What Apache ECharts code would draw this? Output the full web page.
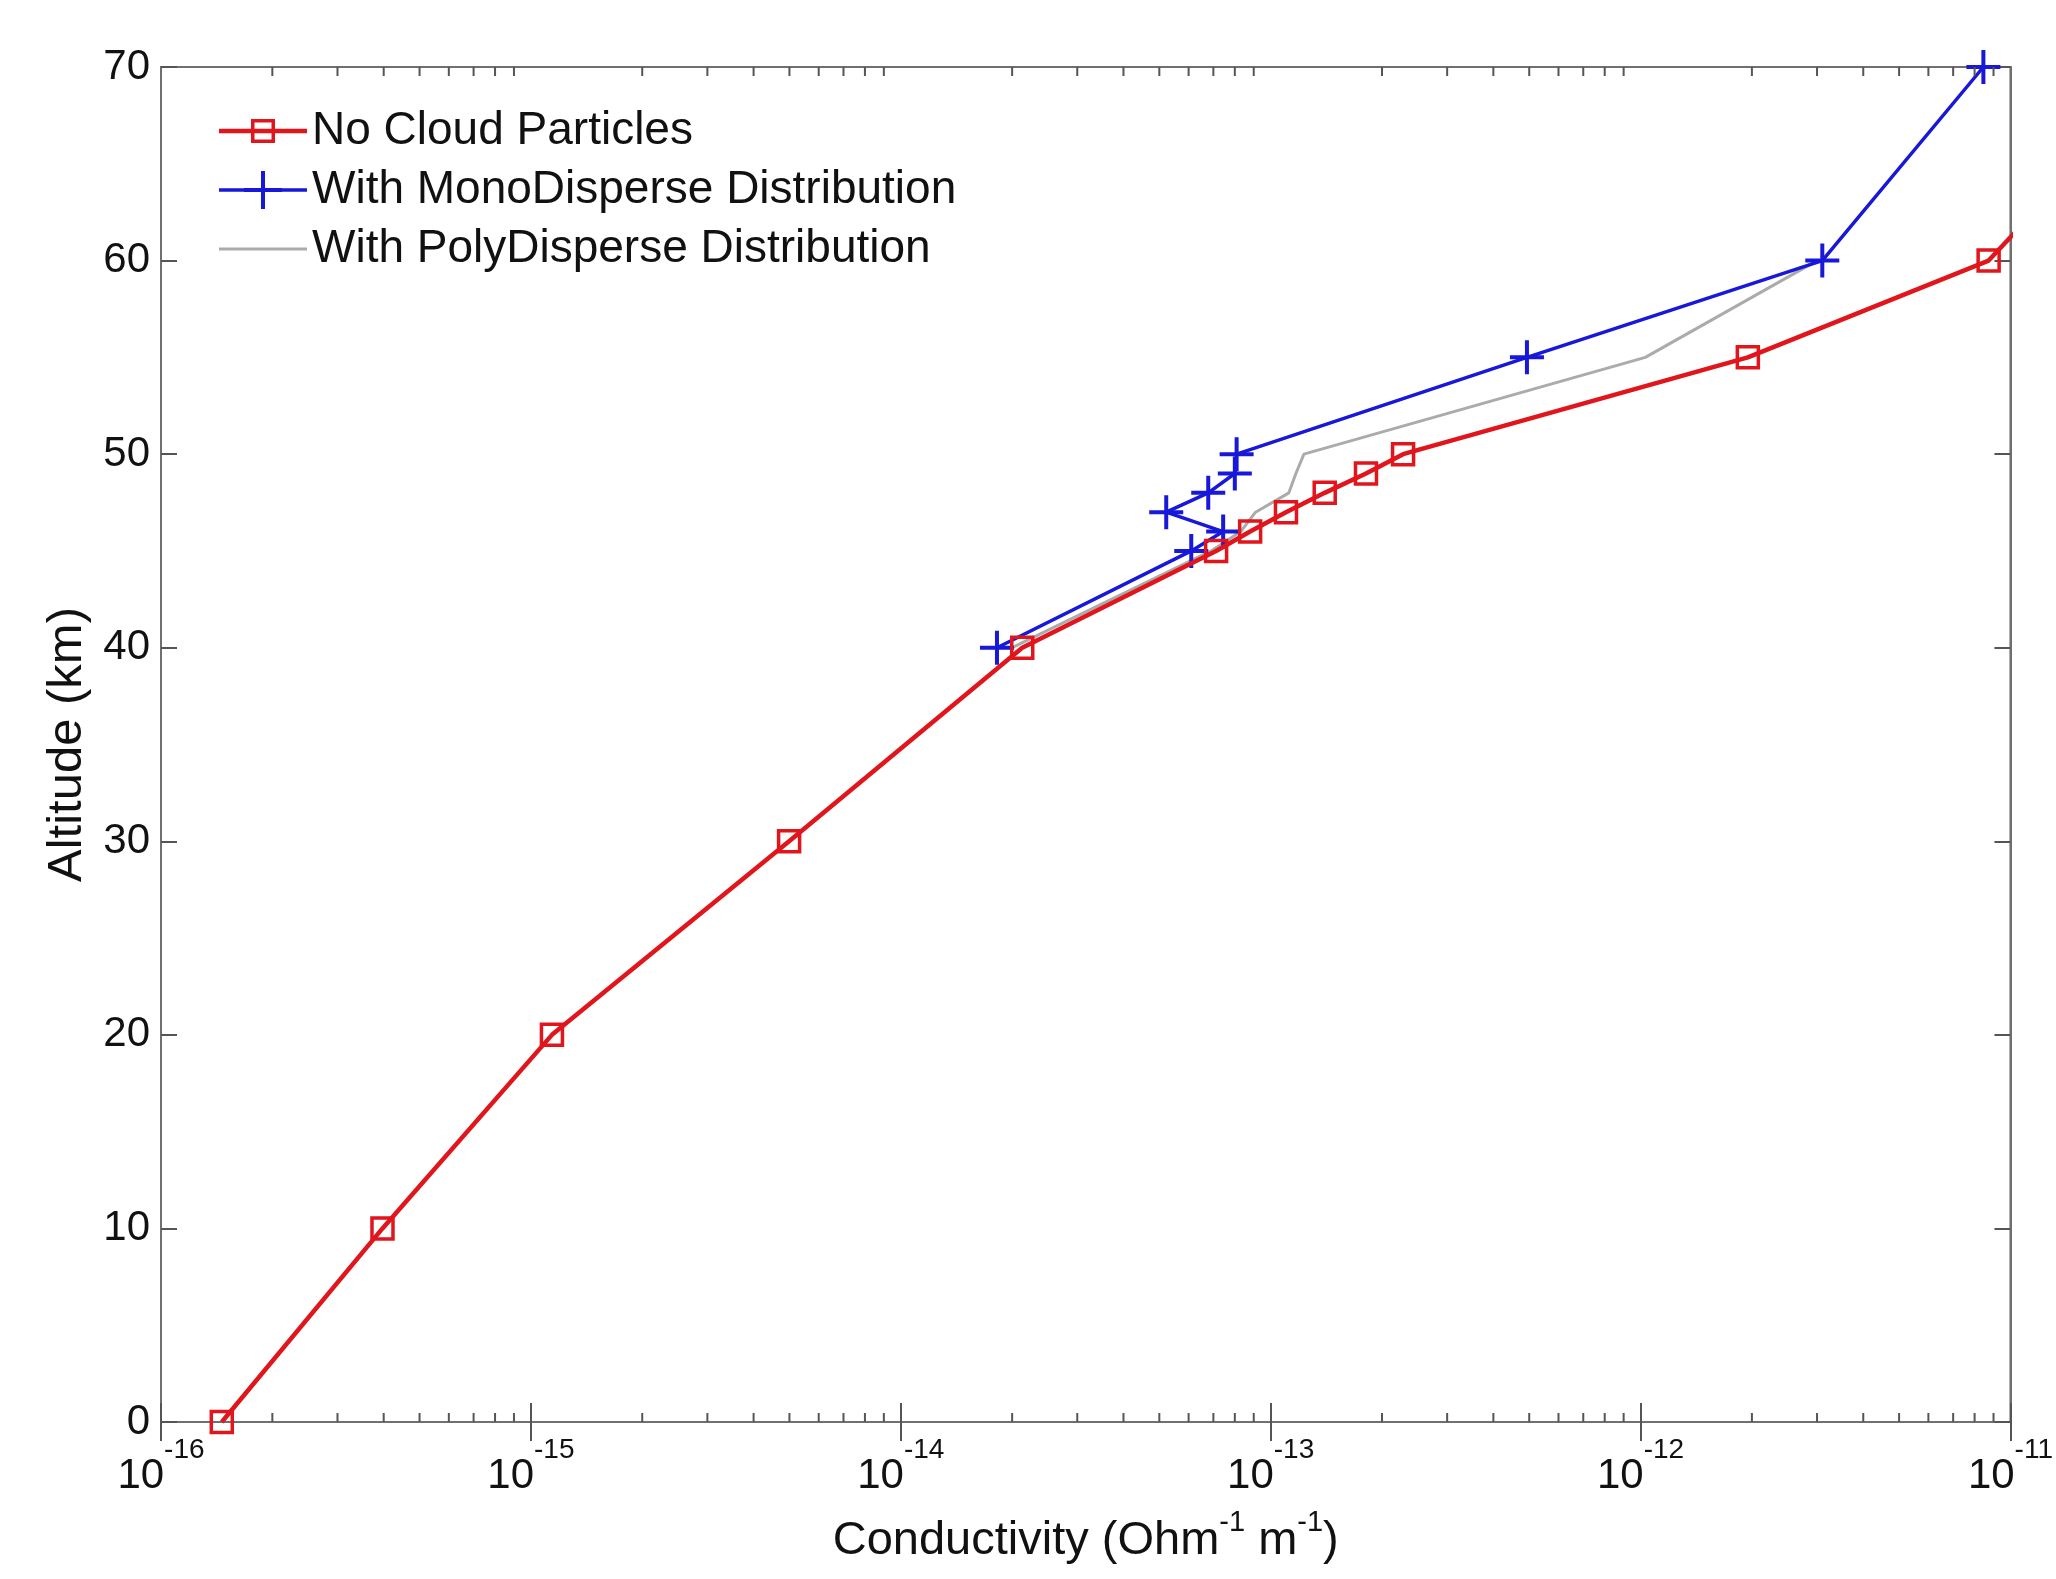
<!DOCTYPE html>
<html>
<head>
<meta charset="utf-8">
<script src="https://cdn.jsdelivr.net/npm/echarts@6/dist/echarts.min.js"></script>
<style>html,body{margin:0;padding:0;background:#fff}#c{width:2056px;height:1579px}</style>
</head>
<body>
<div id="c"></div>
<script>
// ---- data ----
const seriesNames = ['No Cloud Particles', 'With MonoDisperse Distribution', 'With PolyDisperse Distribution'];
const altNoCloud = [0, 10, 20, 30, 40, 45, 46, 47, 48, 49, 50, 55, 60, 70];
const condNoCloud = [1.46e-16, 3.97e-16, 1.14e-15, 4.99e-15, 2.13e-14, 7.12e-14, 8.8e-14, 1.10e-13, 1.40e-13, 1.81e-13, 2.28e-13, 1.95e-12, 8.73e-12, 2.7e-11];
const altMono = [40, 45, 46, 47, 48, 49, 50, 55, 60, 70];
const condMono = [1.82e-14, 6.1e-14, 7.44e-14, 5.22e-14, 6.78e-14, 8.0e-14, 8.09e-14, 4.93e-13, 3.1e-12, 8.45e-12];
const altPoly = [40, 45, 46, 47, 48, 49, 50, 55, 60];
const condPoly = [2.0e-14, 6.9e-14, 8.3e-14, 9.1e-14, 1.12e-13, 1.17e-13, 1.23e-13, 1.03e-12, 3.0e-12];
const xMin = 1e-16, xMax = 1e-11;
const yTicks = [0, 10, 20, 30, 40, 50, 60, 70];

// minor log tick positions (2..9 within each decade)
const minorTicks = [];
for (let d = -16; d < -11; d++) for (let m = 2; m <= 9; m++) minorTicks.push([m * Math.pow(10, d)]);

const FONT = 'Liberation Sans, Arial, Helvetica, sans-serif';
const TXT = '#111';
const AX = '#707070';
const RED = '#e0161c';
const BLUE = '#1818d8';
const GRAY = '#ababab';
const PLUS = 'path://M-2,-17 L2,-17 L2,-2 L17,-2 L17,2 L2,2 L2,17 L-2,17 L-2,2 L-17,2 L-17,-2 L-2,-2 Z';

// legend icons (line sample + marker)
const ICON_RED = 'path://M0,9.75 L88,9.75 L88,14.25 L0,14.25 Z M32,0 L56,0 L56,24 L32,24 Z M35.5,3.5 L35.5,20.5 L52.5,20.5 L52.5,3.5 Z';
const ICON_BLUE = 'path://M0,17.25 L88,17.25 L88,20.75 L0,20.75 Z M42,0 L46,0 L46,38 L42,38 Z M25,17 L63,17 L63,21 L25,21 Z';
const ICON_GRAY = 'path://M0,0 L88,0 L88,3 L0,3 Z';

const zip = (xs, ys) => xs.map((x, i) => [x, ys[i]]);

const chart = echarts.init(document.getElementById('c'), null, {renderer: 'canvas'});
const option = {
  animation: false,
  backgroundColor: '#fff',
  grid: {left: 161, right: 39, top: 67, bottom: 157, show: true, borderColor: AX, borderWidth: 2, backgroundColor: 'transparent'},
  legend: {
    data: [
      {name: seriesNames[0], icon: ICON_RED, itemStyle: {color: RED, borderWidth: 0}},
      {name: seriesNames[1], icon: ICON_BLUE, itemStyle: {color: BLUE, borderWidth: 0}},
      {name: seriesNames[2], icon: ICON_GRAY, itemStyle: {color: GRAY, borderWidth: 0}}
    ],
    orient: 'vertical', left: 214, top: 103,
    itemWidth: 88, itemHeight: 38, itemGap: 13,
    symbolKeepAspect: true,
    textStyle: {fontFamily: FONT, fontSize: 46, lineHeight: 46, color: TXT, padding: [0, 0, 0, 0]},
    backgroundColor: 'transparent', borderWidth: 0
  },
  xAxis: [{
    type: 'log', logBase: 10, min: xMin, max: xMax,
    position: 'bottom',
    axisLine: {show: true, lineStyle: {color: AX, width: 2}},
    axisTick: {show: true, inside: true, length: 19, lineStyle: {color: '#555', width: 2}},
    splitLine: {show: false},
    axisLabel: {
      margin: 14,
      formatter: v => '{b|10}{s|-' + Math.round(-Math.log10(v)) + '}',
      rich: {
        b: {fontFamily: FONT, fontSize: 42, color: TXT, lineHeight: 80},
        s: {fontFamily: FONT, fontSize: 28, color: TXT, lineHeight: 28, verticalAlign: 'top'}
      }
    },
    name: '{b|Conductivity (Ohm}{s|-1}{b| m}{s|-1}{b|)}',
    nameLocation: 'middle', nameGap: 86,
    nameTextStyle: {
      rich: {
        b: {fontFamily: FONT, fontSize: 47, color: TXT, lineHeight: 66},
        s: {fontFamily: FONT, fontSize: 29, color: TXT, lineHeight: 29, verticalAlign: 'top'}
      }
    }
  }, {
    type: 'log', logBase: 10, min: xMin, max: xMax,
    position: 'top',
    axisLine: {show: true, lineStyle: {color: AX, width: 2}},
    axisTick: {show: true, inside: true, length: 19, lineStyle: {color: '#555', width: 2}},
    axisLabel: {show: false}, splitLine: {show: false}
  }],
  yAxis: [{
    type: 'value', min: 0, max: 70, interval: 10,
    position: 'left',
    axisLine: {show: true, lineStyle: {color: AX, width: 2}},
    axisTick: {show: true, inside: true, length: 16, lineStyle: {color: '#555', width: 2}},
    splitLine: {show: false},
    axisLabel: {margin: 11, fontFamily: FONT, fontSize: 42, color: TXT, formatter: v => yTicks.includes(v) ? String(v) : ''},
    name: 'Altitude (km)', nameLocation: 'middle', nameGap: 68, nameRotate: 90,
    nameTextStyle: {fontFamily: FONT, fontSize: 49, color: TXT}
  }, {
    type: 'value', min: 0, max: 70, interval: 10,
    position: 'right',
    axisLine: {show: true, lineStyle: {color: AX, width: 2}},
    axisTick: {show: true, inside: true, length: 16, lineStyle: {color: '#555', width: 2}},
    axisLabel: {show: false}, splitLine: {show: false}
  }],
  series: [
    {
      name: seriesNames[2], type: 'line', data: zip(condPoly, altPoly), z: 2,
      symbol: 'none', lineStyle: {color: GRAY, width: 3}, itemStyle: {color: GRAY}
    },
    {
      name: seriesNames[1], type: 'line', data: zip(condMono, altMono), z: 3,
      symbol: PLUS, symbolSize: 34,
      lineStyle: {color: BLUE, width: 3.5}, itemStyle: {color: BLUE}
    },
    {
      name: seriesNames[0], type: 'line', data: zip(condNoCloud, altNoCloud), z: 4,
      symbol: 'rect', symbolSize: 21,
      lineStyle: {color: RED, width: 4.5},
      itemStyle: {color: 'rgba(255,255,255,0)', borderColor: RED, borderWidth: 3.5}
    },
    {
      type: 'custom', silent: true, z: 5, clip: false,
      data: minorTicks,
      encode: {x: 0},
      renderItem: (params, api) => {
        const v = api.value(0);
        const pb = api.coord([v, 0]);
        const pt = api.coord([v, 70]);
        const st = {stroke: '#555', lineWidth: 2};
        return {type: 'group', children: [
          {type: 'line', shape: {x1: pb[0], y1: pb[1], x2: pb[0], y2: pb[1] - 9}, style: st},
          {type: 'line', shape: {x1: pt[0], y1: pt[1], x2: pt[0], y2: pt[1] + 9}, style: st}
        ]};
      }
    }
  ]
};
chart.setOption(option);
</script>
</body>
</html>
